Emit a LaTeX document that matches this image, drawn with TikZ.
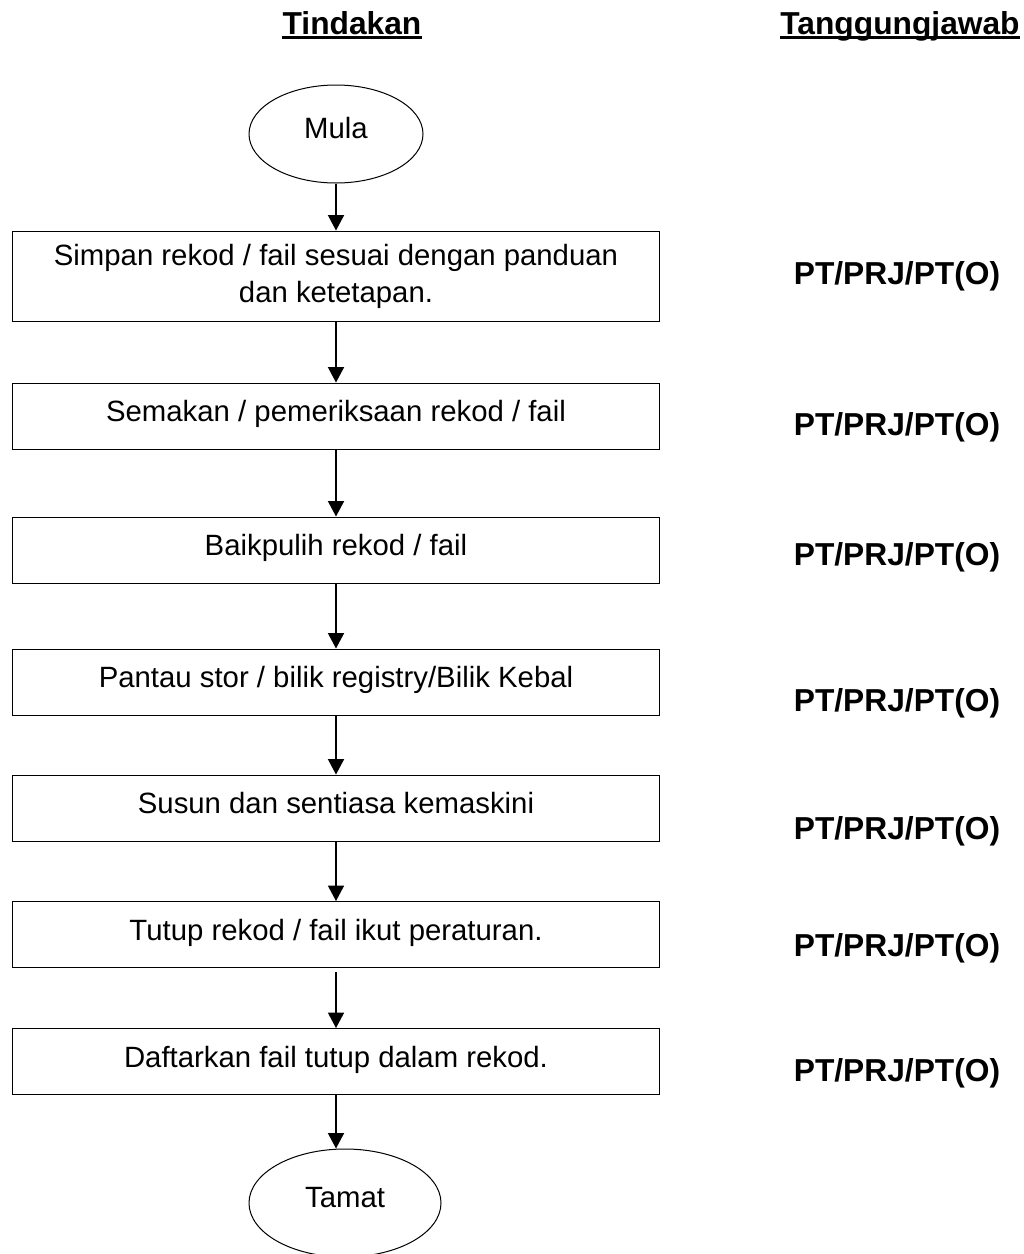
\documentclass[tikz,border=0pt]{standalone}
\usepackage{fontspec}
\setmainfont{Liberation Sans}
\usetikzlibrary{shapes.geometric,arrows.meta}
\begin{document}
\begin{tikzpicture}[x=0.75pt,y=-0.75pt,
  every node/.style={font=\fontsize{22}{27.75}\selectfont},
  procbox/.style={draw,line width=0.75pt,minimum width=485.25pt,minimum height=49.5pt,inner sep=2pt},
  onetext/.style={text height=15.8pt,text depth=7.5pt},
  term/.style={draw,ellipse,line width=0.75pt,inner sep=0pt,text height=15.8pt,text depth=9.5pt},
  resp/.style={font=\fontsize{23.8}{28}\selectfont\bfseries,inner sep=0pt},
  head/.style={font=\fontsize{23.8}{28}\selectfont\bfseries,inner sep=0pt,anchor=base},
  arr/.style={line width=1.1pt,-{Triangle[length=11.5pt,width=12pt]}}
]
\useasboundingbox (0,0) rectangle (1024,1254);

% headers
\node[head] (h1) at (352,34) {Tindakan};
\node[head] (h2) at (900,34) {Tanggungjawab};
\draw[line width=1.6pt] ([yshift=-2.6pt]h1.base west) -- ([yshift=-2.6pt]h1.base east);
\draw[line width=1.6pt] ([yshift=-2.6pt]h2.base west) -- ([yshift=-2.6pt]h2.base east);

% flow
\node[term,minimum width=130.5pt,minimum height=73.5pt] (mula) at (336,134) {Mula};
\node[procbox,minimum height=67.5pt,align=center] (b1) at (336,276) {Simpan rekod / fail sesuai dengan panduan\\dan ketetapan.};
\node[procbox,onetext] (b2) at (336,416) {Semakan / pemeriksaan rekod / fail};
\node[procbox,onetext] (b3) at (336,550) {Baikpulih rekod / fail};
\node[procbox,onetext] (b4) at (336,682) {Pantau stor / bilik registry/Bilik Kebal};
\node[procbox,onetext] (b5) at (336,808) {Susun dan sentiasa kemaskini};
\node[procbox,onetext] (b6) at (336,934.5) {Tutup rekod / fail ikut peraturan.};
\node[procbox,onetext] (b7) at (336,1061.5) {Daftarkan fail tutup dalam rekod.};
\node[term,minimum width=144pt,minimum height=81pt] (tamat) at (345,1203) {Tamat};

\draw[arr] (mula.south) -- (b1.north);
\draw[arr] (b1.south) -- (b2.north);
\draw[arr] (b2.south) -- (b3.north);
\draw[arr] (b3.south) -- (b4.north);
\draw[arr] (b4.south) -- (b5.north);
\draw[arr] (b5.south) -- (b6.north);
\draw[arr] ([yshift=-3pt]b6.south) -- (b7.north);
\draw[arr] (b7.south) -- (b7.south |- tamat.north);

% responsibilities
\node[resp] (r1) at (897,276) {PT/PRJ/PT(O)};
\node[resp] (r2) at (897,427) {PT/PRJ/PT(O)};
\node[resp] (r3) at (897,557) {PT/PRJ/PT(O)};
\node[resp] (r4) at (897,703) {PT/PRJ/PT(O)};
\node[resp] (r5) at (897,831) {PT/PRJ/PT(O)};
\node[resp] (r6) at (897,948) {PT/PRJ/PT(O)};
\node[resp] (r7) at (897,1073) {PT/PRJ/PT(O)};
\end{tikzpicture}
\end{document}
